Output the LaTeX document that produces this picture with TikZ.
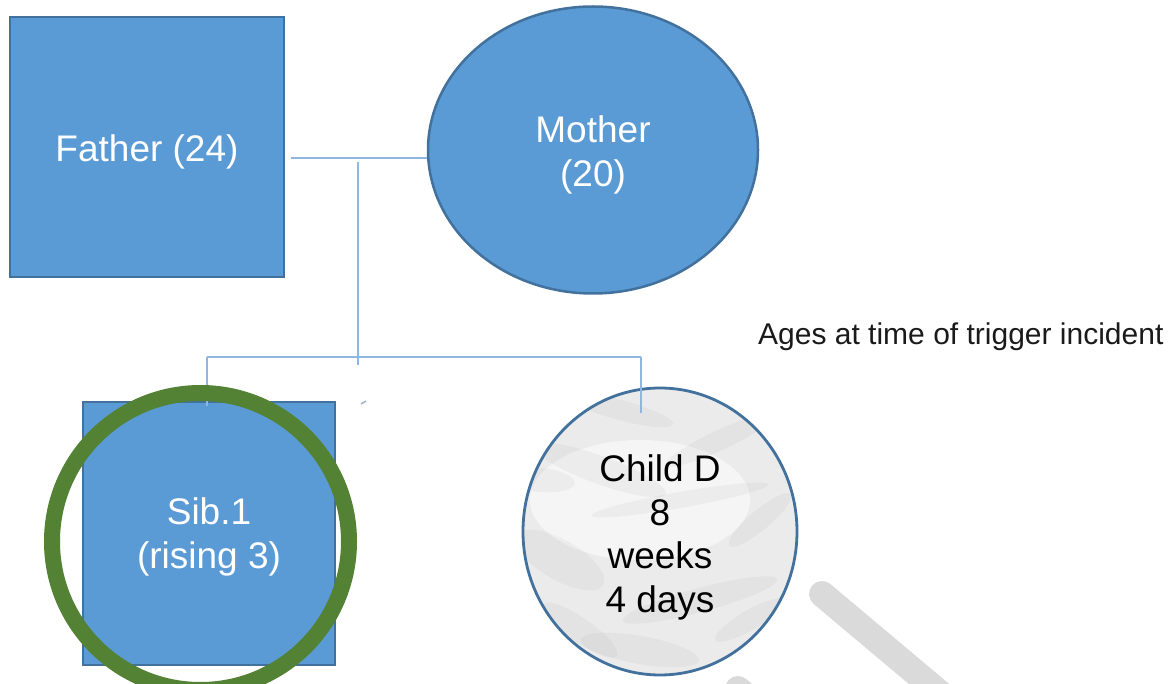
\documentclass[tikz,border=0pt]{standalone}
\usepackage{fontspec}
\setmainfont{Liberation Sans}
\usetikzlibrary{shapes.geometric}
\definecolor{boxfill}{HTML}{5B9BD5}
\definecolor{boxline}{HTML}{41719C}
\definecolor{linkcol}{HTML}{8FB6E0}
\definecolor{ringgreen}{HTML}{548235}
\definecolor{wmark}{HTML}{DADADA}
\definecolor{marble}{HTML}{EBEBEB}
\definecolor{inktext}{HTML}{1A1A1A}
\tikzset{
  person/.style={draw=boxline, fill=boxfill, line width=2.5pt, inner sep=0pt},
  malebox/.style={person, rectangle},
  femaleshape/.style={person, ellipse},
  nametext/.style={text=white, align=center, font=\fontsize{37}{44}\selectfont, inner sep=0pt},
  link/.style={draw=linkcol, line width=2pt},
  watermark/.style={draw=wmark, line width=26pt, line cap=round},
  highlight/.style={draw=ringgreen, line width=16pt},
  streak/.style={fill=gray, opacity=0.07},
}
\begin{document}
\begin{tikzpicture}[x=1pt,y=-1pt]
\useasboundingbox (0,0) rectangle (1170,684);
\clip (0,0) rectangle (1170,684);
% watermark strokes
\draw[watermark] (822,594) -- (960,710);
\draw[watermark] (738,689) -- (800,744);
% people
\node[malebox, minimum width=274pt, minimum height=260pt] (father) at (147,147) {};
\node[nametext] (fatherlbl) at ([yshift=-5pt]father.center) {Father (24)};
\node[femaleshape, minimum width=330pt, minimum height=287pt] (mother) at (593,150) {};
\node[nametext] (motherlbl) at ([yshift=-5pt]mother.center) {Mother\\(20)};
\node[malebox, minimum width=252pt, minimum height=263pt] (sib) at (209,533.5) {};
\node[nametext] (siblbl) at ([yshift=-3pt]sib.center) {Sib.1\\(rising 3)};
\node[draw=boxline, line width=2.8pt, ellipse, fill=marble, minimum width=274pt, minimum height=287pt,
      inner sep=0pt] (child) at (660,531.5) {};
\begin{scope}
  \clip (660,531.5) ellipse (136pt and 142.5pt);
  \fill[white, opacity=0.5] (640,500) ellipse (110pt and 60pt);
  \fill[streak, rotate around={-20:(600,470)}] (600,470) ellipse (70pt and 14pt);
  \fill[streak, rotate around={15:(700,600)}] (700,600) ellipse (80pt and 12pt);
  \fill[streak, rotate around={-30:(560,560)}] (560,560) ellipse (50pt and 20pt);
  \fill[streak, rotate around={25:(720,440)}] (720,440) ellipse (60pt and 10pt);
  \fill[streak, rotate around={-10:(640,650)}] (640,650) ellipse (60pt and 14pt);
  \fill[streak, rotate around={40:(760,520)}] (760,520) ellipse (40pt and 10pt);
  \fill[streak, rotate around={-15:(620,410)}] (620,410) ellipse (55pt and 10pt);
  \fill[streak, rotate around={10:(680,500)}] (680,500) ellipse (90pt and 8pt);
  \fill[streak, rotate around={-35:(580,630)}] (580,630) ellipse (45pt and 12pt);
  \fill[streak, rotate around={30:(750,620)}] (750,620) ellipse (40pt and 10pt);
  \fill[streak, rotate around={-5:(540,480)}] (540,480) ellipse (35pt and 12pt);
\end{scope}
\node[text=black, align=center, font=\fontsize{37}{43.5}\selectfont, inner sep=0pt] (childtext) at ([yshift=-6pt]child.center)
  {Child D\\8\\weeks\\4 days};
\node[text=inktext, anchor=base west, font=\fontsize{30}{36}\selectfont, inner sep=0pt] (note) at (758,345)
  {Ages at time of trigger incident};
% connectors
\coordinate (cpl) at (358,158);
\coordinate (sibL) at (207,357);
\coordinate (sibR) at (641,357);
\coordinate (bar) at (358,365);
\coordinate (childin) at (641,413);
\coordinate (sibin) at (207,406);
\draw[link] ([xshift=6pt]father.east |- cpl) -- (mother.west |- cpl);
\draw[link] ([yshift=-4pt]cpl) -- (bar);
\draw[link] (sibL) -- (sibR);
\draw[link] (sibL) -- (sibin);
\draw[link] (sibR) -- (childin);
\coordinate (markA) at (361,404);
\coordinate (markB) at (366,401);
\draw[draw=linkcol!70!black, line width=1.5pt, opacity=0.6] (markA) -- (markB);
% highlight ring
\draw[highlight] (200.5,541.5) circle (148.5pt);
\end{tikzpicture}
\end{document}
